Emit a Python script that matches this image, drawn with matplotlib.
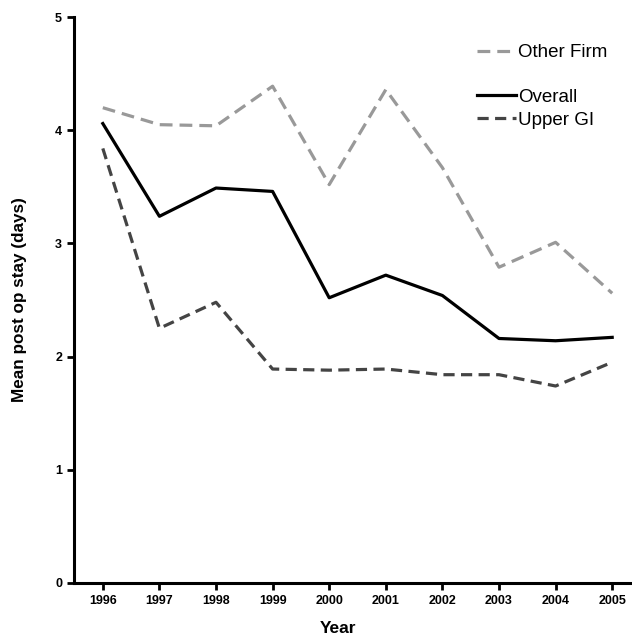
import matplotlib
matplotlib.use('Agg')
import matplotlib.pyplot as plt

plt.rcParams['font.family'] = ['Liberation Sans', 'DejaVu Sans']

# data
years = [1996, 1997, 1998, 1999, 2000, 2001, 2002, 2003, 2004, 2005]
other_firm = [4.20, 4.05, 4.04, 4.39, 3.52, 4.36, 3.67, 2.79, 3.01, 2.56]
overall = [4.06, 3.24, 3.49, 3.46, 2.52, 2.72, 2.54, 2.16, 2.14, 2.17]
upper_gi = [3.84, 2.25, 2.48, 1.89, 1.88, 1.89, 1.84, 1.84, 1.74, 1.95]

fig = plt.figure(figsize=(6.32, 6.37), dpi=100)
ax = fig.add_axes([0.117, 0.085, 0.883, 0.888])

l1, = ax.plot(years, other_firm, color='#999999', lw=2.3, ls=(0, (4, 2.2)), label='Other Firm')
l2, = ax.plot(years, overall, color='black', lw=2.3, label='Overall')
l3, = ax.plot(years, upper_gi, color='#444444', lw=2.3, ls=(0, (3.5, 2)), label='Upper GI')

ax.set_xlim(1995.49, 2005.35)
ax.set_ylim(0, 5)
ax.set_xticks(years)
ax.set_yticks([0, 1, 2, 3, 4, 5])
ax.tick_params(axis='both', direction='out', length=5, width=2, labelsize=9)
for t in ax.get_xticklabels() + ax.get_yticklabels():
    t.set_fontweight('bold')

for s in ['top', 'right']:
    ax.spines[s].set_visible(False)
for s in ['left', 'bottom']:
    ax.spines[s].set_linewidth(2.2)

ax.set_xlabel('Year', fontsize=12.5, fontweight='bold', va='center')
ax.xaxis.set_label_coords(0.474, -0.08)
ax.set_ylabel('Mean post op stay (days)', fontsize=12.3, fontweight='bold', va='center')
ax.yaxis.set_label_coords(-0.098, 0.5)

leg1 = ax.legend(handles=[l1], loc='center left', bbox_to_anchor=(0.722, 0.937),
                 frameon=False, fontsize=13.5, handlelength=2.1, handletextpad=0.1,
                 borderaxespad=0, borderpad=0)
ax.add_artist(leg1)
ax.legend(handles=[l2, l3], loc='center left', bbox_to_anchor=(0.722, 0.838),
          frameon=False, fontsize=13.5, handlelength=2.1, handletextpad=0.1,
          labelspacing=0.3, borderaxespad=0, borderpad=0)

fig.savefig('out.png', dpi=100)
